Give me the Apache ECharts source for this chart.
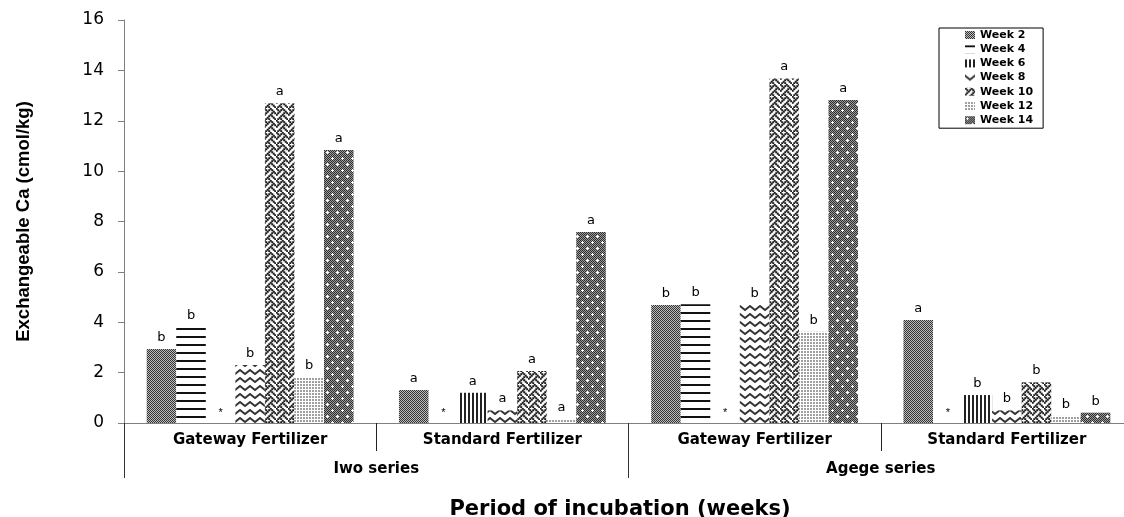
<!DOCTYPE html>
<html>
<head>
<meta charset="utf-8">
<script src="https://cdn.jsdelivr.net/npm/echarts@6/dist/echarts.min.js"></script>
<style>
  html, body { margin: 0; padding: 0; background: #fff; overflow: hidden; width: 1124px; height: 517px; }
  #chart { width: 1133px; height: 517px; }
</style>
</head>
<body>
<div id="chart"></div>
<script>
// ---- data ----
const categories = ['Gateway Fertilizer', 'Standard Fertilizer', 'Gateway Fertilizer', 'Standard Fertilizer'];
const seriesGroups = ['Iwo series', 'Agege series'];
const weeks = ['Week 2', 'Week 4', 'Week 6', 'Week 8', 'Week 10', 'Week 12', 'Week 14'];
const yTicks = [0, 2, 4, 6, 8, 10, 12, 14, 16];

const week2 = [2.94, 1.31, 4.68, 4.09];
const week4 = [3.82, 0, 4.71, 0];
const week6 = [0, 1.2, 0, 1.11];
const week8 = [2.3, 0.5, 4.68, 0.5];
const week10 = [12.69, 2.06, 13.68, 1.62];
const week12 = [1.81, 0.15, 3.62, 0.28];
const week14 = [10.84, 7.58, 12.82, 0.41];

const letters2 = ['b', 'a', 'b', 'a'];
const letters4 = ['b', '*', 'b', '*'];
const letters6 = ['*', 'a', '*', 'b'];
const letters8 = ['b', 'a', 'b', 'b'];
const letters10 = ['a', 'a', 'a', 'b'];
const letters12 = ['b', 'a', 'b', 'b'];
const letters14 = ['a', 'a', 'a', 'b'];

const allValues = [week2, week4, week6, week8, week10, week12, week14];
const allLetters = [letters2, letters4, letters6, letters8, letters10, letters12, letters14];

// ---- patterns ----
function makePattern(w, h, draw) {
  const c = document.createElement('canvas');
  c.width = w; c.height = h;
  const ctx = c.getContext('2d');
  ctx.fillStyle = '#ffffff';
  ctx.fillRect(0, 0, w, h);
  draw(ctx);
  return { image: c, repeat: 'repeat' };
}
const patterns = [
  // Week 2: fine checker
  makePattern(2, 2, ctx => {
    ctx.fillStyle = '#bdbdbd'; ctx.fillRect(0, 0, 2, 2);
    ctx.fillStyle = '#333'; ctx.fillRect(0, 0, 1, 1); ctx.fillRect(1, 1, 1, 1);
  }),
  // Week 4: horizontal lines
  makePattern(4, 8, ctx => {
    ctx.fillStyle = '#111'; ctx.fillRect(0, 0, 4, 2);
  }),
  // Week 6: vertical lines
  makePattern(4, 4, ctx => {
    ctx.fillStyle = '#222'; ctx.fillRect(0, 0, 2, 4);
  }),
  // Week 8: zigzag waves
  makePattern(10, 8, ctx => {
    ctx.strokeStyle = '#333'; ctx.lineWidth = 1.8;
    ctx.beginPath();
    ctx.moveTo(-5, 6); ctx.lineTo(0, 2); ctx.lineTo(5, 6); ctx.lineTo(10, 2); ctx.lineTo(15, 6);
    ctx.stroke();
  }),
  // Week 10: weave
  makePattern(12, 12, ctx => {
    const bits = [0x88, 0x54, 0x22, 0x45, 0x88, 0x14, 0x22, 0x51];
    ctx.fillStyle = '#1a1a1a';
    for (let r = 0; r < 8; r++) {
      for (let col = 0; col < 8; col++) {
        if (bits[r] & (0x80 >> col)) ctx.fillRect(col * 1.5 - 0.25, r * 1.5 - 0.25, 2, 2);
      }
    }
  }),
  // Week 12: fine dots
  makePattern(3, 3, ctx => {
    ctx.fillStyle = '#a0a0a0'; ctx.fillRect(0, 0, 2, 2);
  }),
  // Week 14: dark checker with white crosses
  makePattern(10, 12, ctx => {
    for (let y = 0; y < 12; y++) for (let x = 0; x < 10; x++) {
      ctx.fillStyle = ((x + y) % 2 === 0) ? '#2e2e2e' : '#9a9a9a';
      ctx.fillRect(x, y, 1, 1);
    }
    ctx.fillStyle = '#ffffff';
    [[2, 2], [7, 8]].forEach(([cx, cy]) => {
      ctx.fillRect(cx, cy - 1, 1, 3); ctx.fillRect(cx - 1, cy, 3, 1);
    });
  })
];

// ---- chart ----
const chart = echarts.init(document.getElementById('chart'), null, { renderer: 'canvas', width: 1133, height: 517 });

const series = weeks.map((name, i) => ({
  name: name,
  type: 'bar',
  xAxisIndex: 0,
  yAxisIndex: 0,
  barGap: '0%',
  barCategoryGap: '18%',
  data: allValues[i],
  itemStyle: { color: patterns[i] },
  label: {
    show: true,
    position: 'top',
    distance: 5,
    color: '#000',
    fontFamily: 'DejaVu Sans',
    fontSize: 13,
    formatter: p => {
      const l = allLetters[p.seriesIndex][p.dataIndex];
      return l === '*' ? '{s|*}' : l;
    },
    rich: { s: { fontSize: 11, fontFamily: 'Liberation Sans', color: '#000' } }
  }
}));

const option = {
  animation: false,
  backgroundColor: '#ffffff',
  title: {
    text: 'Period of incubation (weeks)',
    left: 615,
    top: 494,
    textAlign: 'center',
    textStyle: { fontFamily: 'DejaVu Sans', fontWeight: 'bold', fontSize: 21, color: '#000' }
  },
  legend: {
    orient: 'vertical',
    left: 939,
    top: 28,
    data: weeks,
    icon: 'rect',
    itemWidth: 10,
    itemHeight: 8,
    itemGap: 2.2,
    itemStyle: { borderWidth: 0 },
    padding: [1, 10, 2, 26],
    borderColor: '#000',
    borderWidth: 1,
    textStyle: { fontFamily: 'DejaVu Sans', fontWeight: 'bold', fontSize: 11, color: '#000', lineHeight: 12 }
  },
  grid: { left: 124, top: 20, right: 0, bottom: 94, containLabel: false },
  xAxis: [
    {
      type: 'category',
      data: categories,
      position: 'bottom',
      axisLine: { show: true, lineStyle: { color: '#808080', width: 1 } },
      axisTick: { show: true, interval: 0, length: 28, alignWithLabel: false, lineStyle: { color: '#222' } },
      axisLabel: { interval: 0, margin: 10, color: '#000', fontFamily: 'DejaVu Sans', fontWeight: 'bold', fontSize: 15 },
      splitLine: { show: false }
    },
    {
      type: 'category',
      data: seriesGroups,
      position: 'bottom',
      offset: 0,
      axisLine: { show: false },
      axisTick: { show: true, interval: 0, length: 55, alignWithLabel: false, lineStyle: { color: '#333' } },
      axisLabel: { interval: 0, margin: 39, color: '#000', fontFamily: 'DejaVu Sans', fontWeight: 'bold', fontSize: 15 },
      splitLine: { show: false }
    }
  ],
  yAxis: {
    type: 'value',
    min: yTicks[0],
    max: yTicks[yTicks.length - 1],
    interval: yTicks[1] - yTicks[0],
    name: 'Exchangeable Ca (cmol/kg)',
    nameLocation: 'middle',
    nameGap: 91,
    nameTextStyle: { fontFamily: 'Liberation Sans', fontWeight: 'bold', fontSize: 18.5, color: '#000' },
    axisLine: { show: true, lineStyle: { color: '#808080', width: 1 } },
    axisTick: { show: true, length: 6, lineStyle: { color: '#808080' } },
    axisLabel: { margin: 20, color: '#000', fontFamily: 'DejaVu Sans', fontSize: 17 },
    splitLine: { show: false }
  },
  series: series
};

chart.setOption(option);
</script>
</body>
</html>
